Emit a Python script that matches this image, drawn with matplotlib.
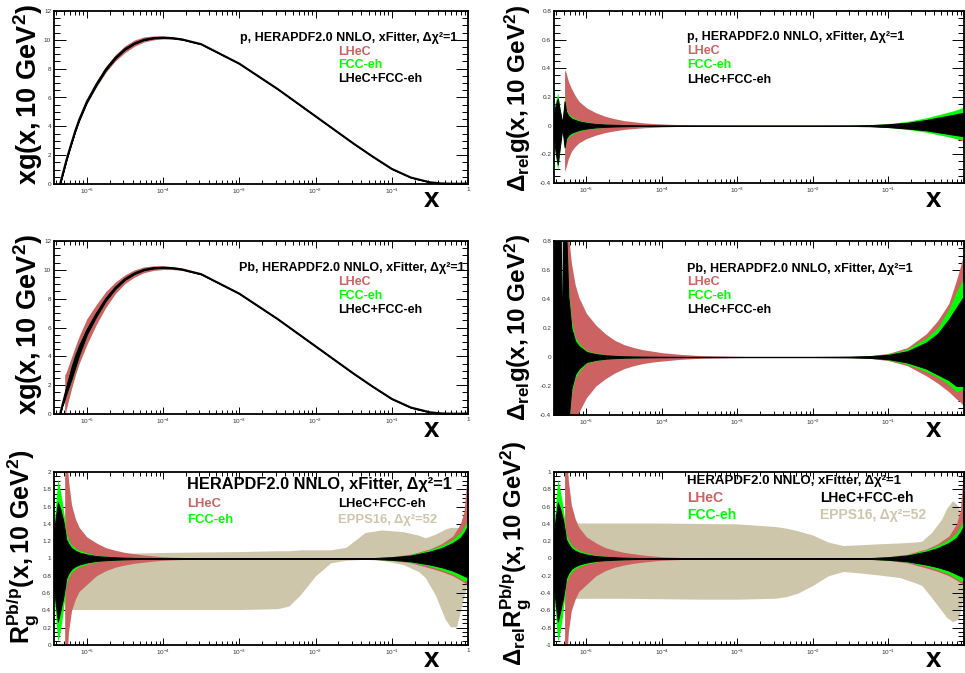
import numpy as np
import matplotlib
matplotlib.use('Agg')
import matplotlib.pyplot as plt
from matplotlib.ticker import FixedLocator, FixedFormatter, LogLocator, NullFormatter, MultipleLocator, AutoMinorLocator, FuncFormatter

plt.rcParams['font.family'] = ['Liberation Sans', 'DejaVu Sans']
plt.rcParams['mathtext.fontset'] = 'custom'
plt.rcParams['mathtext.rm'] = 'Liberation Sans'
plt.rcParams['mathtext.bf'] = 'Liberation Sans:bold'
plt.rcParams['mathtext.it'] = 'Liberation Sans:italic'
plt.rcParams['mathtext.sf'] = 'Liberation Sans'
plt.rcParams['axes.unicode_minus'] = False

nan = np.nan

# ---------------- data ----------------
log10_x = [-5.43, -5.41, -5.38, -5.35, -5.32, -5.305, -5.29, -5.27, -5.24, -5.2, -5.15, -5.1, -5.0,
           -4.875, -4.75, -4.625, -4.5, -4.375, -4.25, -4.125, -4.0, -3.875, -3.75,
           -3.5, -3.0, -2.5, -2.0, -1.5, -1.25, -1.0, -0.75, -0.5, -0.35, -0.2, -0.1, -0.05, 0.0]

# central xg(x, Q2=10 GeV2)
xg_central = [nan, nan, nan, 0.0, 0.6, 0.9, 1.2, 1.6, 2.15, 2.85, 3.7, 4.45, 5.7,
              6.9, 7.95, 8.75, 9.35, 9.75, 10.0, 10.12, 10.15, 10.12, 10.03,
              9.7, 8.35, 6.6, 4.7, 2.8, 1.9, 1.05, 0.45, 0.12, 0.04, 0.02, 0.02, 0.03, 0.04]

# Pb, LHeC: absolute half-width of the band on xg (panel with xg for Pb)
pb_xg_lhec_halfwidth = [nan, nan, nan, nan, nan, nan, 1.5, 1.3, 1.2, 1.1, 1.0, 0.95, 0.9,
                        0.7, 0.55, 0.4, 0.3, 0.25, 0.2, 0.16, 0.13, 0.1, 0.08,
                        0.05, 0.02, 0.01, 0.005, 0.005, 0.005, 0.005, 0.005, 0.003, 0.002, 0.002,
                        0.002, 0.002, 0.002]

# proton: relative uncertainties
p_comb_hi = [0.08, 0.14, 0.19, 0.10, 0.02, 0.09, 0.17, 0.10, 0.07, 0.05, 0.04, 0.03, 0.02,
             0.012, 0.008, 0.006, 0.004, 0.003, 0.002, 0.0018, 0.0015, 0.0015, 0.0015,
             0.0015, 0.0015, 0.0015, 0.0015, 0.002, 0.004, 0.01, 0.02, 0.04, 0.055, 0.07, 0.08, 0.085, 0.09]
p_comb_lo = [-0.08, -0.18, -0.27, -0.14, -0.02, -0.08, -0.15, -0.09, -0.065, -0.05, -0.04, -0.03, -0.02,
             -0.012, -0.008, -0.006, -0.004, -0.003, -0.002, -0.0018, -0.0015, -0.0015, -0.0015,
             -0.0015, -0.0015, -0.0015, -0.0015, -0.002, -0.004, -0.01, -0.02, -0.032, -0.045, -0.058,
             -0.066, -0.07, -0.072]
p_fcc_hi = [0.10, 0.17, 0.23, 0.12, 0.03, 0.11, 0.20, 0.12, 0.085, 0.065, 0.05, 0.038, 0.027,
            0.017, 0.011, 0.008, 0.006, 0.004, 0.003, 0.0025, 0.002, 0.002, 0.002,
            0.002, 0.002, 0.002, 0.002, 0.003, 0.006, 0.014, 0.03, 0.055, 0.075, 0.095, 0.11, 0.12, 0.13]
p_fcc_lo = [-0.10, -0.21, -0.31, -0.16, -0.03, -0.10, -0.17, -0.11, -0.08, -0.065, -0.05, -0.038, -0.027,
            -0.017, -0.011, -0.008, -0.006, -0.004, -0.003, -0.0025, -0.002, -0.002, -0.002,
            -0.002, -0.002, -0.002, -0.002, -0.003, -0.006, -0.013, -0.026, -0.045, -0.062, -0.078,
            -0.09, -0.095, -0.10]
p_lhec_hi = [nan] * 6 + [0.39, 0.37, 0.31, 0.26, 0.21, 0.17, 0.125,
                         0.09, 0.065, 0.048, 0.035, 0.027, 0.02, 0.015, 0.012, 0.009, 0.007,
                         0.004, 0.002, 0.0015, 0.0015, 0.002, 0.004, 0.01, 0.02, 0.04, 0.055,
                         0.072, 0.09, 0.105, 0.118]
p_lhec_lo = [nan] * 6 + [-0.32, -0.29, -0.23, -0.18, -0.145, -0.12, -0.09,
                         -0.066, -0.048, -0.036, -0.026, -0.02, -0.015, -0.012, -0.009, -0.007, -0.005,
                         -0.003, -0.002, -0.0015, -0.0015, -0.002, -0.004, -0.01, -0.021,
                         -0.04, -0.058, -0.075, -0.09, -0.1, -0.11]

# lead: relative uncertainties
pb_comb_hi = [0.2, 2.0, 2.0, 1.2, 0.01, 2.0, 2.0, 0.9, 0.42, 0.2, 0.11, 0.075, 0.035,
              0.02, 0.012, 0.008, 0.005, 0.004, 0.003, 0.0025, 0.002, 0.0018, 0.0015,
              0.0015, 0.0015, 0.0015, 0.0015, 0.003, 0.006, 0.015, 0.04, 0.1, 0.16, 0.26, 0.34, 0.38, 0.42]
pb_comb_lo = [-0.2, -2.0, -2.0, -1.2, -0.01, -2.0, -2.0, -0.9, -0.45, -0.22, -0.12, -0.08, -0.035,
              -0.02, -0.012, -0.008, -0.005, -0.004, -0.003, -0.0025, -0.002, -0.0018, -0.0015,
              -0.0015, -0.0015, -0.0015, -0.0015, -0.003, -0.006, -0.015, -0.038, -0.08, -0.12, -0.16,
              -0.2, -0.2, -0.2]
pb_fcc_hi = [0.25, 2.2, 2.2, 1.3, 0.03, 2.2, 2.2, 1.0, 0.5, 0.25, 0.14, 0.095, 0.045,
             0.026, 0.016, 0.011, 0.007, 0.0055, 0.004, 0.003, 0.0025, 0.0022, 0.002,
             0.002, 0.002, 0.002, 0.002, 0.004, 0.008, 0.02, 0.055, 0.13, 0.2, 0.33, 0.45, 0.5, 0.55]
pb_fcc_lo = [-0.25, -2.2, -2.2, -1.3, -0.03, -2.2, -2.2, -1.0, -0.55, -0.26, -0.15, -0.1, -0.045,
             -0.026, -0.016, -0.011, -0.007, -0.0055, -0.004, -0.003, -0.0025, -0.0022, -0.002,
             -0.002, -0.002, -0.002, -0.002, -0.004, -0.008, -0.02, -0.05, -0.1, -0.14, -0.19, -0.24,
             -0.23, -0.22]
pb_lhec_hi = [nan] * 6 + [2.0, 1.2, 0.85, 0.65, 0.5, 0.41, 0.3,
                          0.22, 0.16, 0.115, 0.085, 0.065, 0.05, 0.04, 0.03, 0.024, 0.018,
                          0.01, 0.004, 0.002, 0.002, 0.004, 0.009, 0.025, 0.065, 0.16, 0.25, 0.37, 0.53,
                          0.62, 0.72]
pb_lhec_lo = [nan] * 6 + [-2.0, -1.2, -0.85, -0.62, -0.47, -0.38, -0.28,
                          -0.2, -0.15, -0.11, -0.08, -0.06, -0.045, -0.035, -0.028, -0.022, -0.016,
                          -0.009, -0.004, -0.002, -0.002, -0.004, -0.009, -0.025, -0.06, -0.13, -0.18,
                          -0.24, -0.29, -0.31, -0.34]

# nuclear modification factor R_g^{Pb/p}: relative uncertainties
r_comb_hi = [0.3, 0.45, 0.65, 0.58, 0.48, 0.42, 0.34, 0.22, 0.17, 0.12, 0.09, 0.07, 0.046,
             0.028, 0.02, 0.014, 0.01, 0.007, 0.005, 0.004, 0.003, 0.0025, 0.002,
             0.0015, 0.0015, 0.0015, 0.0015, 0.002, 0.005, 0.015, 0.035, 0.08, 0.12, 0.18, 0.24, 0.3, 0.38]
r_comb_lo = [-0.33, -0.5, -0.73, -0.62, -0.5, -0.43, -0.35, -0.23, -0.17, -0.12, -0.09, -0.07, -0.046,
             -0.028, -0.02, -0.014, -0.01, -0.007, -0.005, -0.004, -0.003, -0.0025, -0.002,
             -0.0015, -0.0015, -0.0015, -0.0015, -0.002, -0.005, -0.015, -0.033, -0.07, -0.1, -0.14,
             -0.18, -0.2, -0.22]
r_fcc_hi = [0.4, 0.6, 0.92, 0.8, 0.65, 0.55, 0.46, 0.3, 0.22, 0.16, 0.12, 0.095, 0.065,
            0.04, 0.027, 0.018, 0.013, 0.009, 0.007, 0.005, 0.004, 0.0035, 0.003,
            0.002, 0.002, 0.002, 0.002, 0.003, 0.007, 0.02, 0.045, 0.1, 0.15, 0.22, 0.3, 0.37, 0.45]
r_fcc_lo = [-0.45, -0.65, -0.96, -0.85, -0.68, -0.57, -0.47, -0.3, -0.22, -0.16, -0.12, -0.095, -0.065,
            -0.04, -0.027, -0.018, -0.013, -0.009, -0.007, -0.005, -0.004, -0.0035, -0.003,
            -0.002, -0.002, -0.002, -0.002, -0.003, -0.007, -0.02, -0.042, -0.09, -0.13, -0.18, -0.23,
            -0.26, -0.25]
r_lhec_hi = [nan] * 6 + [2.0, 1.3, 0.9, 0.62, 0.46, 0.36, 0.25,
                         0.18, 0.125, 0.095, 0.07, 0.055, 0.04, 0.03, 0.02, 0.016, 0.012,
                         0.007, 0.003, 0.002, 0.002, 0.003, 0.008, 0.022, 0.05, 0.11, 0.17, 0.26, 0.4,
                         0.55, 1.1]
r_lhec_lo = [nan] * 6 + [-2.0, -1.3, -0.85, -0.6, -0.47, -0.38, -0.3,
                         -0.2, -0.14, -0.1, -0.075, -0.055, -0.042, -0.03, -0.021, -0.016, -0.012,
                         -0.007, -0.003, -0.002, -0.002, -0.003, -0.008, -0.022, -0.05, -0.11, -0.15,
                         -0.2, -0.25, -0.28, -0.31]

# EPPS16
epps_log10_x = [-5.26, -5.0, -4.5, -4.0, -3.5, -3.0, -2.5, -2.35, -2.2, -2.0, -1.8, -1.6, -1.35, -1.13,
                -0.85, -0.65, -0.56, -0.43, -0.3, -0.23, -0.15, -0.07, 0.0]
epps_R_hi = [1.05, 1.05, 1.06, 1.07, 1.075, 1.08, 1.09, 1.09, 1.1, 1.1, 1.1, 1.13, 1.3, 1.33, 1.31, 1.27,
             1.24, 1.28, 1.34, 1.36, 1.36, 1.35, 1.3]
epps_R_lo = [0.41, 0.41, 0.41, 0.41, 0.41, 0.41, 0.42, 0.45, 0.58, 0.8, 0.95, 0.98, 0.99, 0.98, 0.93,
             0.85, 0.78, 0.58, 0.3, 0.21, 0.21, 0.5, 0.75]
epps_rel_hi = [0.41, 0.41, 0.41, 0.41, 0.405, 0.4, 0.37, 0.35, 0.32, 0.27, 0.19, 0.15, 0.16, 0.17, 0.18,
               0.19, 0.2, 0.3, 0.45, 0.58, 0.67, 0.6, 0.3]
epps_rel_lo = [-0.46, -0.46, -0.46, -0.465, -0.47, -0.47, -0.46, -0.44, -0.4, -0.31, -0.2, -0.15, -0.17,
               -0.19, -0.22, -0.28, -0.31, -0.45, -0.6, -0.68, -0.73, -0.7, -0.4]

x_tick_vals = [1e-5, 1e-4, 1e-3, 1e-2, 1e-1, 1.0]
x_tick_labels = [r'$10^{-5}$', r'$10^{-4}$', r'$10^{-3}$', r'$10^{-2}$', r'$10^{-1}$', '1']

# ---------------- style ----------------
C_LHEC = '#cc6262'
C_FCC = '#00ff00'
C_COMB = '#000000'
C_EPPS = '#cdc6aa'

W, H = 965, 673
fig = plt.figure(figsize=(W / 100, H / 100), dpi=100)


def rect(x0, x1, ytop, ybot):
    return [x0 / W, 1 - ybot / H, (x1 - x0) / W, (ybot - ytop) / H]


def ftext(x, y, s, **kw):
    fig.text(x / W, 1 - y / H, s, **kw)


x = 10 ** np.array(log10_x)
xe = 10 ** np.array(epps_log10_x)
A = lambda v: np.array(v, dtype=float)


def yfmt(v, pos):
    v = round(v, 6)
    if v == 0:
        return '0'
    return '%g' % v


def style_axes(ax, ylo, yhi, ymaj, hide_one=False):
    ax.set_xscale('log')
    ax.set_xlim(10 ** -5.43, 1.0)
    ax.set_ylim(ylo, yhi)
    ax.xaxis.set_major_locator(FixedLocator(x_tick_vals))
    labels = list(x_tick_labels)
    if hide_one:
        labels[-1] = ''
    ax.xaxis.set_major_formatter(FixedFormatter(labels))
    ax.xaxis.set_minor_locator(LogLocator(base=10, subs=np.arange(2, 10), numticks=20))
    ax.xaxis.set_minor_formatter(NullFormatter())
    ax.yaxis.set_major_locator(MultipleLocator(ymaj))
    ax.yaxis.set_minor_locator(AutoMinorLocator(4))
    ax.yaxis.set_major_formatter(FuncFormatter(yfmt))
    ax.tick_params(axis='both', which='both', direction='in', top=True, right=True,
                   labelsize=4.6, labelcolor='#333333', width=0.7, color='black')
    ax.tick_params(axis='y', which='major', length=8.5, pad=2)
    ax.tick_params(axis='y', which='minor', length=4.3)
    ax.tick_params(axis='x', which='major', length=5, pad=2)
    ax.tick_params(axis='x', which='minor', length=2.6)
    for s in ax.spines.values():
        s.set_linewidth(1.3)
        s.set_zorder(10)


def draw_bands(ax, lo_hi_list):
    for (lo, hi, c, z) in lo_hi_list:
        kw = dict(color=c, lw=0, zorder=z)
        if c == C_COMB:
            kw.update(lw=0.7, edgecolor=C_COMB)
        ax.fill_between(x, lo, hi, **kw)


central = A(xg_central)


def absolute(rel, cap=None):
    # absolute band = central * (1 + relative uncertainty); the cap limits the
    # relative size where the central value is close to zero
    r = A(rel)
    if cap is not None:
        r = np.clip(r, -cap, cap)
    return central * (1 + r)


# ---------- panel 1: proton xg ----------
ax1 = fig.add_axes(rect(54, 468, 11, 184))
style_axes(ax1, 0, 12, 2)
draw_bands(ax1, [
    (absolute(p_lhec_lo, 0.025), absolute(p_lhec_hi, 0.025), C_LHEC, 2),
    (absolute(p_fcc_lo, 0.012), absolute(p_fcc_hi, 0.012), C_FCC, 3),
    (absolute(p_comb_lo, 0.01), absolute(p_comb_hi, 0.01), C_COMB, 4)])
ax1.plot(x, central, color='black', lw=1.5, zorder=5)

# ---------- panel 2: proton relative ----------
ax2 = fig.add_axes(rect(554, 964, 11, 183))
style_axes(ax2, -0.4, 0.8, 0.2, hide_one=True)
draw_bands(ax2, [
    (A(p_lhec_lo), A(p_lhec_hi), C_LHEC, 2),
    (A(p_fcc_lo), A(p_fcc_hi), C_FCC, 3),
    (A(p_comb_lo), A(p_comb_hi), C_COMB, 4)])

# ---------- panel 3: lead xg ----------
ax3 = fig.add_axes(rect(54, 468, 241, 414))
style_axes(ax3, 0, 12, 2)
hw = A(pb_xg_lhec_halfwidth)
draw_bands(ax3, [
    (central - hw, central + hw, C_LHEC, 2),
    (absolute(pb_fcc_lo, 0.2), absolute(pb_fcc_hi, 0.2), C_FCC, 3),
    (absolute(pb_comb_lo, 0.15), absolute(pb_comb_hi, 0.15), C_COMB, 4)])
ax3.plot(x, central, color='black', lw=1.5, zorder=5)

# ---------- panel 4: lead relative ----------
ax4 = fig.add_axes(rect(554, 964, 241, 415))
style_axes(ax4, -0.4, 0.8, 0.2, hide_one=True)
draw_bands(ax4, [
    (A(pb_lhec_lo), A(pb_lhec_hi), C_LHEC, 2),
    (A(pb_fcc_lo), A(pb_fcc_hi), C_FCC, 3),
    (A(pb_comb_lo), A(pb_comb_hi), C_COMB, 4)])

# ---------- panel 5: R_g ----------
ax5 = fig.add_axes(rect(54, 468, 472, 645))
style_axes(ax5, 0, 2, 0.2)
ax5.fill_between(xe, A(epps_R_lo), A(epps_R_hi), color=C_EPPS, lw=0, zorder=1)
draw_bands(ax5, [
    (1 + A(r_lhec_lo), 1 + A(r_lhec_hi), C_LHEC, 2),
    (1 + A(r_fcc_lo), 1 + A(r_fcc_hi), C_FCC, 3),
    (1 + A(r_comb_lo), 1 + A(r_comb_hi), C_COMB, 4)])

# ---------- panel 6: relative R_g ----------
ax6 = fig.add_axes(rect(554, 964, 472, 645))
style_axes(ax6, -1, 1, 0.2, hide_one=True)
ax6.fill_between(xe, A(epps_rel_lo), A(epps_rel_hi), color=C_EPPS, lw=0, zorder=1)
draw_bands(ax6, [
    (A(r_lhec_lo), A(r_lhec_hi), C_LHEC, 2),
    (A(r_fcc_lo), A(r_fcc_hi), C_FCC, 3),
    (A(r_comb_lo), A(r_comb_hi), C_COMB, 4)])

# ---------------- axis titles ----------------
YL = dict(rotation=90, ha='center', va='center')
ftext(28, 94, r'$\mathbf{xg(x,10\ GeV^{2})}$', fontsize=19.5, **YL)
ftext(518, 98, r'$\mathbf{\Delta_{rel}g(x,10\ GeV^{2})}$', fontsize=17.5, **YL)
ftext(28, 324, r'$\mathbf{xg(x,10\ GeV^{2})}$', fontsize=19.5, **YL)
ftext(518, 327, r'$\mathbf{\Delta_{rel}g(x,10\ GeV^{2})}$', fontsize=17.5, **YL)
ftext(23, 547, r'$\mathbf{R_{g}^{Pb/p}(x,10\ GeV^{2})}$', fontsize=18, **YL)
ftext(516, 553, r'$\mathbf{\Delta_{rel}R_{g}^{Pb/p}(x,10\ GeV^{2})}$', fontsize=17.3, **YL)

XL = dict(ha='center', va='baseline', fontsize=20, fontweight='bold')
for (xx, yy) in [(432, 207), (933, 207), (432, 437), (933, 437), (432, 667), (933, 667)]:
    ftext(xx, yy, 'x', **XL)

# ---------------- legends ----------------
LT = dict(ha='left', va='baseline', fontweight='bold')
# panel 1
ftext(240, 41, 'p, HERAPDF2.0 NNLO, xFitter, Δχ²=1', color='black', fontsize=9, **LT)
ftext(338, 55, 'LHeC', color=C_LHEC, fontsize=9, **LT)
ftext(338, 68, 'FCC-eh', color=C_FCC, fontsize=9, **LT)
ftext(338, 82, 'LHeC+FCC-eh', color='black', fontsize=9, **LT)
# panel 2
ftext(687, 40, 'p, HERAPDF2.0 NNLO, xFitter, Δχ²=1', color='black', fontsize=9, **LT)
ftext(687, 54, 'LHeC', color=C_LHEC, fontsize=9, **LT)
ftext(687, 68, 'FCC-eh', color=C_FCC, fontsize=9, **LT)
ftext(687, 83, 'LHeC+FCC-eh', color='black', fontsize=9, **LT)
# panel 3
ftext(239, 271, 'Pb, HERAPDF2.0 NNLO, xFitter, Δχ²=1', color='black', fontsize=9, **LT)
ftext(338, 285, 'LHeC', color=C_LHEC, fontsize=9, **LT)
ftext(338, 299, 'FCC-eh', color=C_FCC, fontsize=9, **LT)
ftext(338, 313, 'LHeC+FCC-eh', color='black', fontsize=9, **LT)
# panel 4
ftext(687, 272, 'Pb, HERAPDF2.0 NNLO, xFitter, Δχ²=1', color='black', fontsize=9, **LT)
ftext(687, 285, 'LHeC', color=C_LHEC, fontsize=9, **LT)
ftext(687, 299, 'FCC-eh', color=C_FCC, fontsize=9, **LT)
ftext(687, 313, 'LHeC+FCC-eh', color='black', fontsize=9, **LT)
# panel 5
ftext(187, 489, 'HERAPDF2.0 NNLO, xFitter, Δχ²=1', color='black', fontsize=11.8, **LT)
ftext(187, 507, 'LHeC', color=C_LHEC, fontsize=9.4, **LT)
ftext(187, 523, 'FCC-eh', color=C_FCC, fontsize=9.4, **LT)
ftext(338, 507, 'LHeC+FCC-eh', color='black', fontsize=9.4, **LT)
ftext(338, 523, 'EPPS16, Δχ²=52', color=C_EPPS, fontsize=9.4, **LT)
# panel 6
ftext(687, 484, 'HERAPDF2.0 NNLO, xFitter, Δχ²=1', color='black', fontsize=9.5, **LT)
ftext(687, 502, 'LHeC', color=C_LHEC, fontsize=10, **LT)
ftext(687, 519, 'FCC-eh', color=C_FCC, fontsize=10, **LT)
ftext(820, 502, 'LHeC+FCC-eh', color='black', fontsize=10, **LT)
ftext(820, 519, 'EPPS16, Δχ²=52', color=C_EPPS, fontsize=10, **LT)

fig.savefig('out.png', dpi=100)
